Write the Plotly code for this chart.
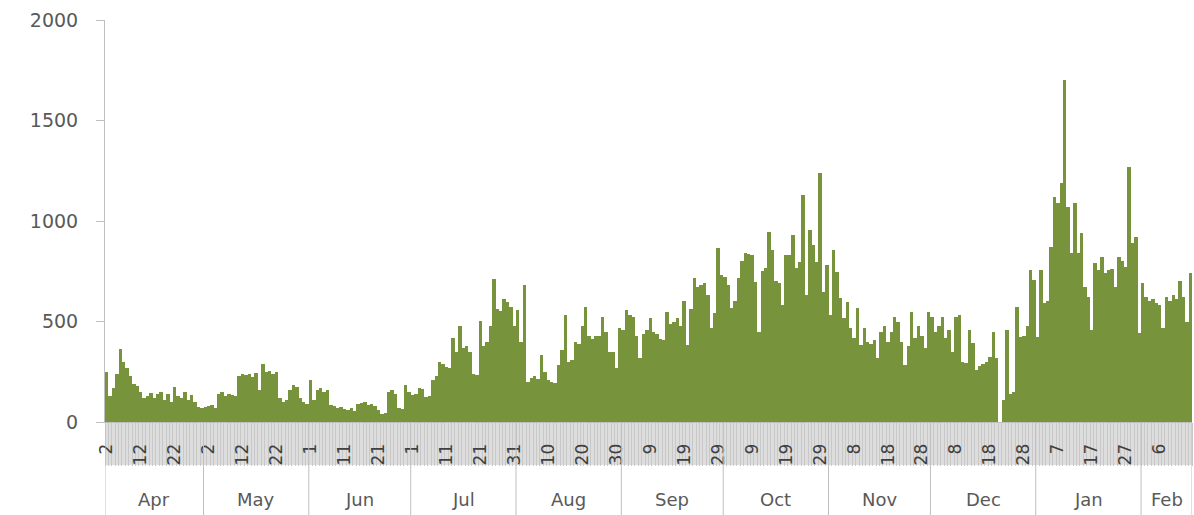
import pandas as pd
import plotly.graph_objects as go

# ---- data (daily values) ----
apr = [250,130,170,240,365,300,270,230,190,180,150,120,130,145,120,140,150,110,140,100,175,130,120,150,110,135,100,75,70]
may = [75,80,85,70,140,150,130,140,135,130,230,240,235,240,225,245,160,290,250,255,240,250,120,100,110,160,185,175,120,100,90]
jun = [210,110,160,170,150,160,85,80,70,75,65,60,70,55,90,95,100,85,90,80,60,40,45,150,160,140,70,65,185,150]
jul = [135,140,170,165,125,130,210,230,300,290,275,270,420,350,480,370,380,350,240,235,505,380,400,480,710,560,550,610,595,570,480]
aug = [555,400,680,200,220,230,215,335,250,210,200,195,285,360,530,300,310,400,390,480,570,430,415,430,430,520,450,350,350,270,470]
sep = [460,555,530,520,430,320,440,460,515,450,440,415,410,545,490,500,515,480,600,385,560,715,670,680,690,630,470,540,865,730]
oct_ = [720,680,565,600,715,800,840,835,830,695,450,750,765,945,855,700,690,580,830,830,930,765,795,1130,630,955,880,795,1240,645,780]
nov = [530,855,745,615,515,595,470,420,565,385,470,400,390,410,320,450,480,400,450,520,500,400,285,380,545,420,480,430,370,545]
dec = [520,450,480,520,420,460,350,520,530,300,292,458,391,259,280,290,300,325,449,320,0,110,460,140,150,570,425,430,480,756,706]
jan = [425,756,590,600,872,1121,1088,1187,1701,1071,839,1088,839,939,673,620,458,789,756,822,740,756,760,673,822,800,773,1270,889,922,441]
feb = [690,620,600,610,590,580,470,620,600,630,610,700,620,500,740]

month_names = ["Apr", "May", "Jun", "Jul", "Aug", "Sep", "Oct", "Nov", "Dec", "Jan", "Feb"]
y_ticks = [0, 500, 1000, 1500, 2000]
start_date = "2020-04-02"

values = apr + may + jun + jul + aug + sep + oct_ + nov + dec + jan + feb
dates = pd.date_range(start_date, periods=len(values), freq="D")

# day-number tick labels every 10 days
tick_dates = dates[::10]
tick_text = [str(d.day) for d in tick_dates]

BAR = "#77933C"
TXT = "#595959"
LINE = "#BFBFBF"
FONT = "DejaVu Sans"
half = pd.Timedelta(hours=12)

fig = go.Figure()
fig.add_trace(go.Bar(x=dates, y=values, marker=dict(color=BAR, line=dict(width=0)),
                     hoverinfo="x+y"))

# geometry in paper units (plot height 402 px)
PH = 402.0
band_bottom = -43 / PH
fig_bottom = -93 / PH
month_label_y = -77 / PH

shapes = [dict(type="rect", xref="paper", yref="paper", x0=0, x1=1, y0=0, y1=band_bottom,
               fillcolor="#DDDDDD", line=dict(width=0), layer="below")]

annotations = []
periods = dates.to_period("M")
month_groups = []
for p in periods.unique():
    sel = dates[periods == p]
    month_groups.append((sel[0] - half, sel[-1] + half))
for i, (x0, x1) in enumerate(month_groups):
    shapes.append(dict(type="line", xref="x", yref="paper", x0=x0, x1=x0, y0=0, y1=fig_bottom,
                       line=dict(color=LINE, width=1)))
    annotations.append(dict(x=x0 + (x1 - x0) / 2, y=month_label_y, xref="x", yref="paper",
                            text=month_names[i], showarrow=False, yanchor="middle",
                            font=dict(family=FONT, size=18, color=TXT)))
shapes.append(dict(type="line", xref="x", yref="paper", x0=month_groups[-1][1], x1=month_groups[-1][1],
                   y0=0, y1=fig_bottom, line=dict(color=LINE, width=1)))

fig.update_layout(
    width=1194, height=515, autosize=False,
    margin=dict(l=105, r=2, t=20, b=93),
    paper_bgcolor="white", plot_bgcolor="white",
    bargap=0, showlegend=False,
    shapes=shapes, annotations=annotations,
    font=dict(family=FONT, size=18, color=TXT),
)
fig.update_xaxes(
    type="date",
    range=[dates[0] - half, dates[-1] + half],
    tickmode="array", tickvals=tick_dates, ticktext=tick_text,
    tickangle=-90, ticks="", ticklabelstandoff=14,
    tickfont=dict(family=FONT, size=17, color="#404040"),
    showgrid=False, showline=True, linecolor=LINE, linewidth=1,
    minor=dict(ticks="outside", ticklen=43, tickcolor="#C8C8C8", tickwidth=1,
               dtick=86400000, tick0=str((dates[0] - half)), showgrid=False),
    zeroline=False,
)
fig.update_yaxes(
    range=[0, 2000], tickmode="array", tickvals=y_ticks,
    ticks="outside", ticklen=8, tickcolor=LINE, ticklabelstandoff=14,
    tickfont=dict(family=FONT, size=19, color=TXT),
    showgrid=False, showline=True, linecolor=LINE, linewidth=1, zeroline=False,
)

fig.write_html(
    "out.html",
    config={"displayModeBar": False},
    post_script="document.body.style.margin='0';document.body.style.overflow='hidden';",
)
